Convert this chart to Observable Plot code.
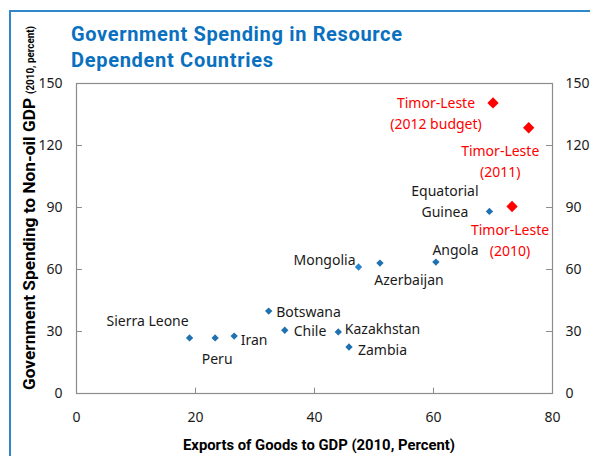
<!DOCTYPE html>
<html>
<head>
<meta charset="utf-8">
<script src="https://cdn.jsdelivr.net/npm/d3@7"></script>
<script src="https://cdn.jsdelivr.net/npm/@observablehq/plot@0.6"></script>
<style>
  html, body { margin: 0; padding: 0; background: #fff; }
  #chart { width: 590px; height: 456px; overflow: hidden; }
</style>
</head>
<body>
<div id="chart"></div>
<script>
// ---- data ----
const countries = ["Sierra Leone", "Peru", "Iran", "Botswana", "Chile", "Kazakhstan", "Zambia",
  "Mongolia", "Azerbaijan", "Angola", "Equatorial Guinea",
  "Timor-Leste (2010)", "Timor-Leste (2011)", "Timor-Leste (2012 budget)"];
const labels = ["Sierra Leone", "Peru", "Iran", "Botswana", "Chile", "Kazakhstan", "Zambia",
  "Mongolia", "Azerbaijan", "Angola", "Equatorial\nGuinea",
  "Timor-Leste\n(2010)", "Timor-Leste\n(2011)", "Timor-Leste\n(2012 budget)"];
const exportsToGDP = [19.0, 23.3, 26.5, 32.3, 35.0, 44.0, 45.8, 47.4, 51.0, 60.4, 69.4, 73.2, 76.0, 70.0];
const spendingToNonOilGDP = [26.9, 26.9, 27.8, 39.9, 30.6, 29.8, 22.5, 61.2, 63.1, 63.6, 88.1, 90.5, 128.6, 140.6];
const groups = ["Other", "Other", "Other", "Other", "Other", "Other", "Other",
  "Other", "Other", "Other", "Other", "Timor-Leste", "Timor-Leste", "Timor-Leste"];
const xTicks = [0, 20, 40, 60, 80];
const yTicks = [0, 30, 60, 90, 120, 150];
const innerXTicks = [20, 40, 60];

const titleLines = ["Government Spending in Resource", "Dependent Countries"];
const xTitle = "Exports of Goods to GDP (2010, Percent)";
const yTitleMain = "Government Spending to Non-oil GDP";
const yTitleSub = "(2010, percent)";

// ---- label placement (style, not data) ----
const labelLayout = {
  "Sierra Leone": {dx: -42, dy: -19, anchor: "middle"},
  "Peru": {dx: 2, dy: 19, anchor: "middle"},
  "Iran": {dx: 6.5, dy: 2.5, anchor: "start"},
  "Botswana": {dx: 7.5, dy: -0.5, anchor: "start"},
  "Chile": {dx: 9, dy: -1, anchor: "start"},
  "Kazakhstan": {dx: 6.5, dy: -4.5, anchor: "start"},
  "Zambia": {dx: 9, dy: 1.5, anchor: "start"},
  "Mongolia": {dx: -3, dy: -8.5, anchor: "end"},
  "Azerbaijan": {dx: 29, dy: 15.5, anchor: "middle"},
  "Angola": {dx: -3.5, dy: -13.5, anchor: "start"},
  "Equatorial Guinea": {dx: -44.5, dy: -12, anchor: "middle"},
  "Timor-Leste (2010)": {dx: -2, dy: 32.5, anchor: "middle"},
  "Timor-Leste (2011)": {dx: -28.5, dy: 32, anchor: "middle"},
  "Timor-Leste (2012 budget)": {dx: -57, dy: 9, anchor: "middle"}
};

const rows = countries.map((c, i) => ({
  name: c, label: labels[i], x: exportsToGDP[i], y: spendingToNonOilGDP[i], group: groups[i]
}));

const BLUE = "#1f71b0", BLUE_LIGHT = "#2a86cc", RED = "#ff0000", GREY = "#8c8c8c";
const fillOf = d => d.group === "Timor-Leste" ? RED : (d.name === "Mongolia" ? BLUE_LIGHT : BLUE);

const labelMarks = rows.map(d => {
  const L = labelLayout[d.name];
  return Plot.text([d], {
    x: "x", y: "y", text: "label",
    dx: L.dx, dy: L.dy, textAnchor: L.anchor, lineAnchor: "middle", lineHeight: 1.52,
    fill: d.group === "Timor-Leste" ? RED : "#1a1a1a",
    fontSize: 14
  });
});

const plot = Plot.plot({
  width: 590, height: 456,
  marginLeft: 76, marginRight: 38, marginTop: 83, marginBottom: 63,
  x: {domain: [0, 80]},
  y: {domain: [0, 150]},
  style: {fontFamily: "'Noto Sans', 'Open Sans', sans-serif", fontSize: "14px", background: "transparent", color: "#1a1a1a"},
  marks: [
    Plot.frame({stroke: GREY, strokeWidth: 1.2}),
    Plot.ruleY(yTicks.slice(1, -1), {x1: 0, x2: 1, stroke: GREY}),
    Plot.ruleY(yTicks.slice(1, -1), {x1: 79, x2: 80, stroke: GREY}),
    Plot.ruleX(innerXTicks, {y1: 0, y2: 2.6, stroke: GREY}),
    Plot.axisX(xTicks, {anchor: "bottom", tickSize: 0, tickPadding: 19, label: null, fontSize: 14}),
    Plot.axisY(yTicks, {anchor: "left", tickSize: 0, tickPadding: 14, label: null, fontSize: 14}),
    Plot.axisY(yTicks, {anchor: "right", tickSize: 0, tickPadding: 13, label: null, fontSize: 14}),
    Plot.dot(rows.filter(d => d.group !== "Timor-Leste"), {x: "x", y: "y", symbol: "diamond2", r: 3.3, fill: fillOf, stroke: null}),
    Plot.dot(rows.filter(d => d.group === "Timor-Leste"), {x: "x", y: "y", symbol: "diamond2", r: 5.1, fill: RED, stroke: null}),
    ...labelMarks
  ]
});

document.getElementById("chart").appendChild(plot);

// ---- decorations: frame line, titles ----
const svg = d3.select(plot);
svg.style("overflow", "hidden");
svg.append("path")
  .attr("d", "M10,460V11H594")
  .attr("fill", "none").attr("stroke", "#2e86cb").attr("stroke-width", 2);

const tFont = "Roboto, 'Open Sans', sans-serif";
const tl = svg.append("g").attr("font-family", tFont).attr("font-weight", 700)
  .attr("fill", "#0a70c0").attr("font-size", 20).attr("text-anchor", "start");
tl.append("text").attr("x", 71).attr("y", 40.5).attr("textLength", 331).attr("lengthAdjust", "spacing").text(titleLines[0]);
tl.append("text").attr("x", 71).attr("y", 67).attr("textLength", 202).attr("lengthAdjust", "spacing").text(titleLines[1]);

svg.append("text")
  .attr("x", 319).attr("y", 450).attr("text-anchor", "middle")
  .attr("font-family", tFont).attr("font-weight", 700).attr("font-size", 14).attr("fill", "#000")
  .attr("textLength", 272).attr("lengthAdjust", "spacingAndGlyphs")
  .text(xTitle);

const yt = svg.append("text")
  .attr("transform", "translate(35,390) rotate(-90)")
  .attr("text-anchor", "start")
  .attr("font-family", tFont).attr("font-weight", 700).attr("fill", "#000");
yt.append("tspan").attr("font-size", 16).attr("textLength", 292).attr("lengthAdjust", "spacingAndGlyphs").text(yTitleMain);
yt.append("tspan").attr("font-size", 10.5).attr("dx", 4).attr("dy", -1.5).attr("textLength", 68).attr("lengthAdjust", "spacingAndGlyphs").text(yTitleSub);
</script>
</body>
</html>
